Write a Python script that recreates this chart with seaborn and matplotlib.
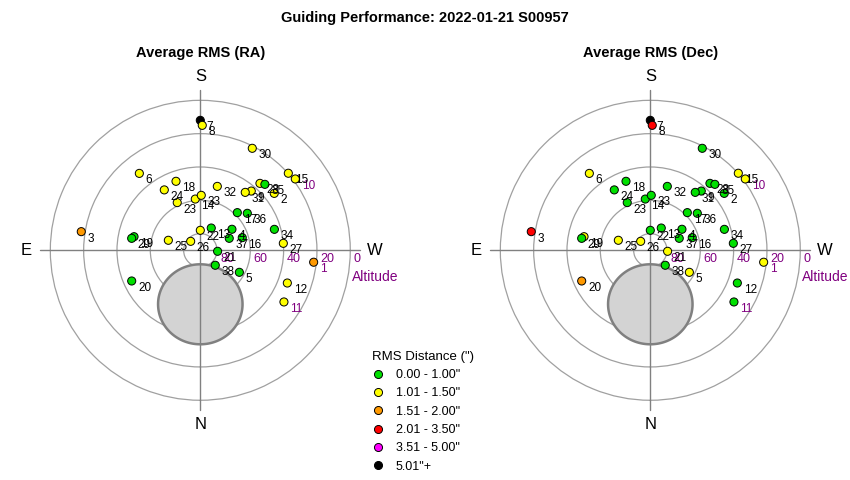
"""Guiding performance sky plots (RA / Dec RMS) drawn with seaborn on polar axes."""

import numpy as np
import pandas as pd
import matplotlib
matplotlib.use("Agg")
import matplotlib.pyplot as plt
from matplotlib.lines import Line2D
import seaborn as sns

TITLE = "Guiding Performance: 2022-01-21 S00957"
PANEL_TITLES = ["Average RMS (RA)", "Average RMS (Dec)"]

# frame number, azimuth (deg, N=0 E=90), altitude (deg)
FRAME = list(range(1, 39))
AZIMUTH = [276.0, 232.4, 98.9, 236.4, 299.4, 141.6, 180.0, 180.9, 220.7, 233.1,
           301.7, 290.6, 206.2, 174.4, 228.8, 253.2, 224.5, 160.6, 101.6, 65.9,
           273.3, 180.0, 154.2, 149.2, 107.4, 133.0, 265.2, 221.7, 99.9, 207.0,
           217.8, 194.9, 181.0, 254.2, 224.4, 231.8, 247.5, 315.0]
ALTITUDE = [21.6, 34.0, 17.7, 67.2, 63.1, 31.1, 12.0, 15.0, 43.1, 18.7,
            31.0, 34.2, 75.1, 59.1, 19.8, 63.7, 58.3, 46.1, 49.4, 44.9,
            79.6, 78.0, 58.2, 47.8, 69.9, 82.1, 40.0, 36.2, 48.2, 21.3,
            46.0, 50.3, 57.0, 43.8, 34.6, 54.1, 71.2, 77.3]

# average RMS per frame (arcsec)
RMS_RA = [1.72, 1.18, 1.64, 0.82, 0.91, 1.27, 5.60, 1.43, 1.12, 1.35,
          1.21, 1.09, 0.77, 1.06, 1.31, 0.88, 0.94, 1.14, 0.85, 0.96,
          0.79, 1.03, 1.11, 1.24, 1.08, 1.16, 1.02, 1.19, 0.90, 1.26,
          1.13, 1.07, 1.05, 0.86, 0.97, 0.83, 0.74, 0.81]
RMS_DEC = [1.22, 0.93, 2.46, 0.71, 1.09, 1.14, 5.85, 2.31, 0.88, 1.28,
           0.92, 0.86, 0.66, 0.79, 1.19, 0.73, 0.81, 0.95, 1.04, 1.63,
           1.07, 0.69, 0.84, 0.90, 1.12, 1.03, 0.87, 0.97, 0.78, 0.99,
           0.82, 0.76, 0.72, 0.91, 0.94, 0.68, 0.64, 0.75]

BAND_EDGES = [0, 1.005, 1.505, 2.005, 3.505, 5.005, 100]
BAND_LABELS = ['0.00 - 1.00"', '1.01 - 1.50"', '1.51 - 2.00"',
               '2.01 - 3.50"', '3.51 - 5.00"', '5.01"+']
BAND_COLORS = ["#00e000", "#ffff00", "#ff9900", "#ff0000", "#ff00ff", "#000000"]

PURPLE_LABELS = [1, 10, 11]
RINGS = [80, 60, 40, 20, 0]
POLE_ALT = 57.6      # latitude of site
POLE_RADIUS = 24.0   # radius of the polar exclusion zone

sns.set_style("white")
plt.rcParams['font.family'] = ['Liberation Sans', 'DejaVu Sans']
plt.rcParams['text.color'] = 'black'


def pole_zone():
    """Return (theta, r) of a small circle around the celestial pole."""
    phi = np.radians(POLE_ALT)
    rho = np.radians(POLE_RADIUS)
    beta = np.linspace(0, 2 * np.pi, 361)
    sin_alt = np.sin(phi) * np.cos(rho) + np.cos(phi) * np.sin(rho) * np.cos(beta)
    alt = np.arcsin(sin_alt)
    az = np.arctan2(np.sin(beta) * np.sin(rho) * np.cos(phi),
                    np.cos(rho) - np.sin(phi) * sin_alt)
    return az, 90 - np.degrees(alt)


def sky_panel(ax, rms):
    df = pd.DataFrame({
        "frame": FRAME,
        "theta": np.radians(AZIMUTH),
        "r": 90 - np.array(ALTITUDE),
        "band": pd.cut(rms, BAND_EDGES, labels=BAND_LABELS),
    })
    ax.set_theta_zero_location('S')
    ax.set_theta_direction(-1)
    ax.set_ylim(0, 110)
    ax.spines['polar'].set_visible(False)
    ax.set_xticks([])
    ax.set_yticks([90 - a for a in RINGS])
    ax.set_yticklabels([])
    ax.yaxis.grid(True, color="#a0a0a0", lw=0.9)
    ax.set_facecolor("white")

    for th in [0, 90, 180, 270]:
        ax.plot([np.radians(th)] * 2, [0, 96], color="#808080", lw=1, zorder=1.6)

    pz_t, pz_r = pole_zone()
    ax.fill(pz_t, pz_r, facecolor="#d3d3d3", edgecolor="#808080", lw=1.8, zorder=1)

    sns.scatterplot(data=df, x="theta", y="r", hue="band", hue_order=BAND_LABELS,
                    palette=dict(zip(BAND_LABELS, BAND_COLORS)), s=34,
                    edgecolor="black", linewidth=0.7, legend=False, ax=ax, zorder=3)
    for _, row in df.iterrows():
        color = "#800080" if row.frame in PURPLE_LABELS else "black"
        ax.annotate(str(row.frame), xy=(row.theta, row.r), xytext=(4.5, -5),
                    textcoords="offset points", ha="left", va="center",
                    fontsize=8.5, color=color, zorder=4)

    for name, az in zip("SNEW", [180, 0, 90, 270]):
        ax.text(np.radians(az), 104.5, name, ha="center", va="center", fontsize=12)
    for alt in RINGS:
        ax.annotate(str(alt), xy=(np.radians(270), 90 - alt), xytext=(2.2, -2),
                    textcoords="offset points", ha="left", va="top",
                    fontsize=9, color="#800080")
    ax.annotate("Altitude", xy=(np.radians(270), 90), xytext=(1.5, -14.5),
                textcoords="offset points", ha="left", va="top",
                fontsize=10, color="#800080")
    ax.set_xlabel("")
    ax.set_ylabel("")


fig = plt.figure(figsize=(8.5, 4.8), dpi=100)
fig.text(0.5, 1 - 18 / 480, TITLE, ha="center", va="center",
         fontsize=10.5, fontweight="bold")

for i, (rms, title) in enumerate(zip([RMS_RA, RMS_DEC], PANEL_TITLES)):
    cx = 200.3 + 450 * i
    ax = fig.add_axes([(cx - 183.3) / 850, (229.7 - 183.3) / 480,
                       366.6 / 850, 366.6 / 480], projection="polar")
    sky_panel(ax, rms)
    fig.text(cx / 850, 1 - 53 / 480, title, ha="center", va="center",
             fontsize=10.5, fontweight="bold")

handles = [Line2D([], [], marker="o", ls="", markerfacecolor=c, markeredgecolor="black",
                  markeredgewidth=0.7, markersize=5.8) for c in BAND_COLORS]
fig.legend(handles, BAND_LABELS, title='RMS Distance (")', loc="upper left",
           bbox_to_anchor=(372 / 850, 1 - 351 / 480), frameon=False, fontsize=9,
           title_fontsize=9.5, alignment="left", borderpad=0, borderaxespad=0,
           handlelength=1.0, handletextpad=0.9, labelspacing=0.5)

fig.savefig("out.png", dpi=100, facecolor="white")
